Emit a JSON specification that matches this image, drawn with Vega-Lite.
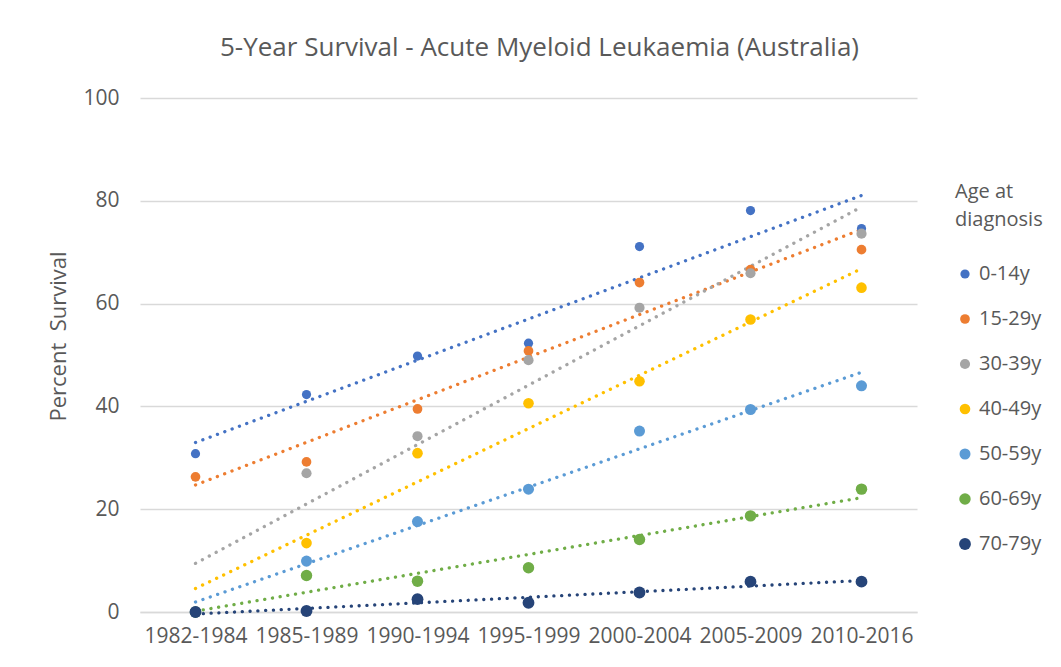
{
  "$schema": "https://vega.github.io/schema/vega-lite/v6.json",
  "autosize": {"type": "none"},
  "width": 777,
  "height": 514,
  "padding": {"left": 140, "top": 98, "right": 144, "bottom": 55},
  "background": "white",
  "config": {
    "font": "Open Sans",
    "view": {"stroke": null}
  },
  "title": {
    "text": "5-Year Survival - Acute Myeloid Leukaemia  (Australia)",
    "fontSize": 26,
    "fontWeight": "normal",
    "color": "#595959",
    "font": "Open Sans",
    "anchor": "middle",
    "dx": 11,
    "offset": 26
  },
  "data": {
    "values": [
      {"period": "1982-1984", "idx": 1, "age": "0-14y", "value": 30.8},
      {"period": "1985-1989", "idx": 2, "age": "0-14y", "value": 42.3},
      {"period": "1990-1994", "idx": 3, "age": "0-14y", "value": 49.8},
      {"period": "1995-1999", "idx": 4, "age": "0-14y", "value": 52.3},
      {"period": "2000-2004", "idx": 5, "age": "0-14y", "value": 71.1},
      {"period": "2005-2009", "idx": 6, "age": "0-14y", "value": 78.1},
      {"period": "2010-2016", "idx": 7, "age": "0-14y", "value": 74.6},
      {"period": "1982-1984", "idx": 1, "age": "15-29y", "value": 26.3},
      {"period": "1985-1989", "idx": 2, "age": "15-29y", "value": 29.2},
      {"period": "1990-1994", "idx": 3, "age": "15-29y", "value": 39.5},
      {"period": "1995-1999", "idx": 4, "age": "15-29y", "value": 50.8},
      {"period": "2000-2004", "idx": 5, "age": "15-29y", "value": 64.1},
      {"period": "2005-2009", "idx": 6, "age": "15-29y", "value": 66.6},
      {"period": "2010-2016", "idx": 7, "age": "15-29y", "value": 70.5},
      {"period": "1982-1984", "idx": 1, "age": "30-39y", "value": 0},
      {"period": "1985-1989", "idx": 2, "age": "30-39y", "value": 27.0},
      {"period": "1990-1994", "idx": 3, "age": "30-39y", "value": 34.2},
      {"period": "1995-1999", "idx": 4, "age": "30-39y", "value": 49.0},
      {"period": "2000-2004", "idx": 5, "age": "30-39y", "value": 59.2},
      {"period": "2005-2009", "idx": 6, "age": "30-39y", "value": 65.9},
      {"period": "2010-2016", "idx": 7, "age": "30-39y", "value": 73.6},
      {"period": "1982-1984", "idx": 1, "age": "40-49y", "value": 0},
      {"period": "1985-1989", "idx": 2, "age": "40-49y", "value": 13.4},
      {"period": "1990-1994", "idx": 3, "age": "40-49y", "value": 30.9},
      {"period": "1995-1999", "idx": 4, "age": "40-49y", "value": 40.6},
      {"period": "2000-2004", "idx": 5, "age": "40-49y", "value": 44.9},
      {"period": "2005-2009", "idx": 6, "age": "40-49y", "value": 56.9},
      {"period": "2010-2016", "idx": 7, "age": "40-49y", "value": 63.1},
      {"period": "1982-1984", "idx": 1, "age": "50-59y", "value": 0},
      {"period": "1985-1989", "idx": 2, "age": "50-59y", "value": 9.9},
      {"period": "1990-1994", "idx": 3, "age": "50-59y", "value": 17.6},
      {"period": "1995-1999", "idx": 4, "age": "50-59y", "value": 23.9},
      {"period": "2000-2004", "idx": 5, "age": "50-59y", "value": 35.2},
      {"period": "2005-2009", "idx": 6, "age": "50-59y", "value": 39.4},
      {"period": "2010-2016", "idx": 7, "age": "50-59y", "value": 44.0},
      {"period": "1982-1984", "idx": 1, "age": "60-69y", "value": 0},
      {"period": "1985-1989", "idx": 2, "age": "60-69y", "value": 7.1},
      {"period": "1990-1994", "idx": 3, "age": "60-69y", "value": 6.0},
      {"period": "1995-1999", "idx": 4, "age": "60-69y", "value": 8.6},
      {"period": "2000-2004", "idx": 5, "age": "60-69y", "value": 14.1},
      {"period": "2005-2009", "idx": 6, "age": "60-69y", "value": 18.7},
      {"period": "2010-2016", "idx": 7, "age": "60-69y", "value": 23.9},
      {"period": "1982-1984", "idx": 1, "age": "70-79y", "value": 0},
      {"period": "1985-1989", "idx": 2, "age": "70-79y", "value": 0.2},
      {"period": "1990-1994", "idx": 3, "age": "70-79y", "value": 2.5},
      {"period": "1995-1999", "idx": 4, "age": "70-79y", "value": 1.8},
      {"period": "2000-2004", "idx": 5, "age": "70-79y", "value": 3.8},
      {"period": "2005-2009", "idx": 6, "age": "70-79y", "value": 5.9},
      {"period": "2010-2016", "idx": 7, "age": "70-79y", "value": 5.9}
    ]
  },
  "encoding": {
    "x": {
      "field": "idx",
      "type": "quantitative",
      "scale": {"domain": [0.5, 7.5], "nice": false, "zero": false},
      "axis": {
        "title": null,
        "values": [1, 2, 3, 4, 5, 6, 7],
        "labelExpr": "['', '1982-1984', '1985-1989', '1990-1994', '1995-1999', '2000-2004', '2005-2009', '2010-2016'][datum.value]",
        "grid": false,
        "ticks": false,
        "domain": true,
        "domainColor": "#D9D9D9",
        "domainWidth": 1.5,
        "labelFont": "Open Sans",
        "labelFontSize": 21,
        "labelColor": "#595959",
        "labelPadding": 13
      }
    },
    "y": {
      "field": "value",
      "type": "quantitative",
      "scale": {"domain": [0, 100], "nice": false},
      "axis": {
        "title": "Percent\u00a0 Survival",
        "titleFont": "Open Sans",
        "titleFontSize": 22,
        "titleFontWeight": "normal",
        "titleColor": "#595959",
        "titlePadding": 12,
        "titleY": 238,
        "values": [0, 20, 40, 60, 80, 100],
        "grid": true,
        "gridColor": "#D9D9D9",
        "gridWidth": 1.5,
        "ticks": false,
        "domain": false,
        "labelFont": "Open Sans",
        "labelFontSize": 21,
        "labelColor": "#595959",
        "labelPadding": 21
      }
    }
  },
  "layer": [
    {
      "transform": [
        {"regression": "value", "on": "idx", "groupby": ["age"]}
      ],
      "mark": {"type": "line", "strokeWidth": 3.3, "strokeCap": "round", "strokeDash": [0.1, 7.7]},
      "encoding": {
        "stroke": {
          "field": "age",
          "type": "nominal",
          "scale": {
            "range": ["#4472C4", "#ED7D31", "#A5A5A5", "#FFC000", "#5B9BD5", "#70AD47", "#264478"]
          },
          "legend": null
        }
      }
    },
    {
      "mark": {"type": "point", "filled": true, "opacity": 1, "shape": "circle"},
      "encoding": {
        "color": {
          "field": "age",
          "type": "nominal",
          "title": ["Age at", "diagnosis"],
          "scale": {
            "domain": ["0-14y", "15-29y", "30-39y", "40-49y", "50-59y", "60-69y", "70-79y"],
            "range": ["#4472C4", "#ED7D31", "#A5A5A5", "#FFC000", "#5B9BD5", "#70AD47", "#264478"]
          },
          "legend": {
            "orient": "none",
            "legendX": 815,
            "legendY": 84,
            "titleFont": "Open Sans",
            "titleFontSize": 20,
            "titleFontWeight": "normal",
            "titleColor": "#595959",
            "titleLineHeight": 28,
            "titlePadding": 34,
            "labelFont": "Open Sans",
            "labelFontSize": 20,
            "labelColor": "#595959",
            "labelOffset": 4,
            "rowPadding": 25,
            "symbolType": "circle",
            "symbolStrokeWidth": 0
          }
        },
        "size": {
          "field": "age",
          "type": "nominal",
          "title": ["Age at", "diagnosis"],
          "scale": {
            "domain": ["0-14y", "15-29y", "30-39y", "40-49y", "50-59y", "60-69y", "70-79y"],
            "range": [85, 140, 130, 140, 130, 130, 190]
          },
          "legend": {
            "orient": "none",
            "legendX": 815,
            "legendY": 84,
            "titleFont": "Open Sans",
            "titleFontSize": 20,
            "titleFontWeight": "normal",
            "titleColor": "#595959",
            "titleLineHeight": 28,
            "titlePadding": 34,
            "labelFont": "Open Sans",
            "labelFontSize": 20,
            "labelColor": "#595959",
            "labelOffset": 4,
            "rowPadding": 25,
            "symbolType": "circle",
            "symbolStrokeWidth": 0
          }
        }
      }
    }
  ]
}
